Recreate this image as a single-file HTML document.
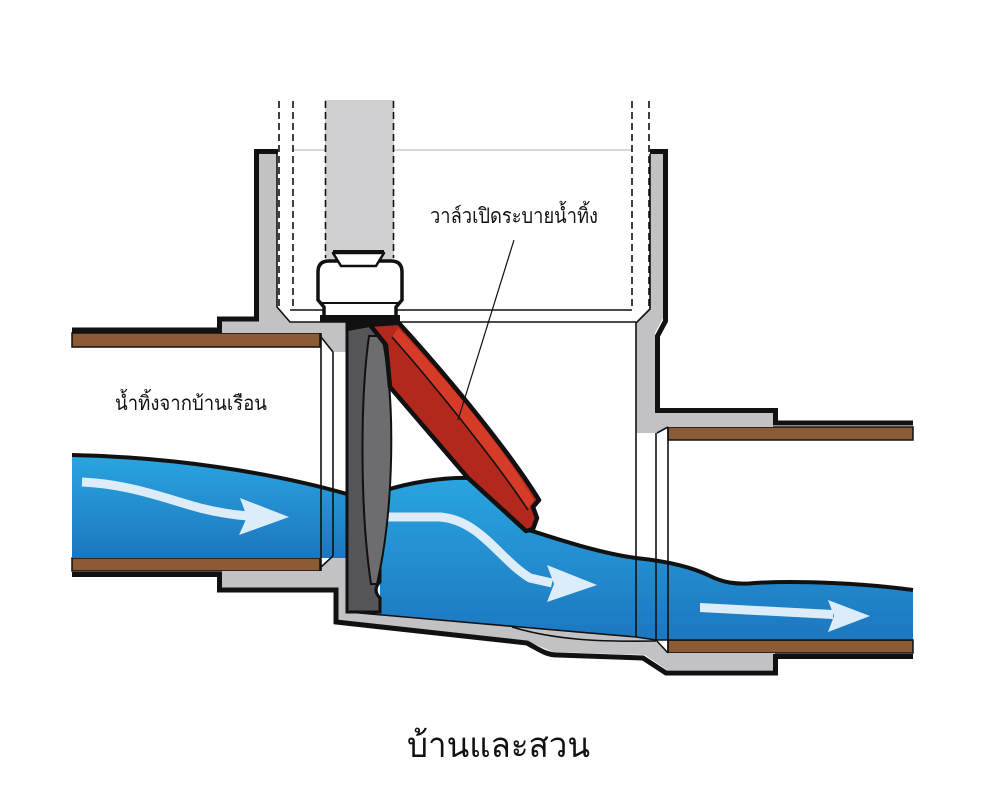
<!DOCTYPE html>
<html>
<head>
<meta charset="utf-8">
<style>
html,body{margin:0;padding:0;background:#fff;}
svg{display:block;}
text{font-family:"Liberation Sans","DejaVu Sans",sans-serif;fill:#111;}
</style>
</head>
<body>
<svg width="1000" height="808" viewBox="0 0 1000 808" xmlns="http://www.w3.org/2000/svg">
<defs>
<linearGradient id="wg" x1="0" y1="0" x2="0" y2="1">
<stop offset="0" stop-color="#2aa5e0"/>
<stop offset="1" stop-color="#1c76bf"/>
</linearGradient>
<linearGradient id="wg2" gradientUnits="userSpaceOnUse" x1="0" y1="470" x2="0" y2="640">
<stop offset="0" stop-color="#2aa7e1"/>
<stop offset="1" stop-color="#1c77c0"/>
</linearGradient>
</defs>

<!-- faint top line -->
<line x1="293" y1="150" x2="632" y2="150" stroke="#d8d8d8" stroke-width="2"/>

<!-- stem -->
<rect x="325" y="100" width="69" height="162" fill="#d0d0d2"/>
<g stroke="#111" stroke-width="1.6" stroke-dasharray="7 4" fill="none">
<line x1="325.5" y1="101" x2="325.5" y2="258"/>
<line x1="393.5" y1="101" x2="393.5" y2="258"/>
<line x1="279" y1="101" x2="279" y2="306"/>
<line x1="293" y1="101" x2="293" y2="310"/>
<line x1="632" y1="101" x2="632" y2="310"/>
<line x1="649" y1="101" x2="649" y2="307"/>
</g>
<line x1="290" y1="310" x2="632" y2="310" stroke="#111" stroke-width="1.6"/>

<!-- pipes -->
<rect x="72" y="333" width="248" height="14" fill="#8c5a35" stroke="#111" stroke-width="1.5"/>
<rect x="72" y="558" width="248" height="13" fill="#8c5a35" stroke="#111" stroke-width="1.5"/>
<rect x="668" y="427" width="245" height="13" fill="#8c5a35" stroke="#111" stroke-width="1.5"/>
<rect x="668" y="640" width="245" height="13" fill="#8c5a35" stroke="#111" stroke-width="1.5"/>

<!-- housing gray -->
<g fill="#c2c2c4">
<polygon points="259,154 277,154 277,307 290,322 347,322 347,352 333,352 321,337 321,333 222,333 222,321 259,321"/>
<polygon points="222,571 321,571 321,567 333,556 348,556 348,612 520,627 636,637 656,640 668,653 775,653 775,670 667,670 645,655 553,652 527,641 338,620 338,588 222,588"/>
<polygon points="650,154 663,154 663,318 655,333 655,413 773,413 773,427 668,427 657,433 636,433 636,323 650,309"/>
</g>

<!-- water left -->
<path d="M72,455 C170,457 270,472 347,494 L347,558 L72,558 Z" fill="url(#wg)"/>
<!-- water middle/right -->
<path d="M380,492 C410,482 445,477 468,478 L528,529 C560,540 600,553 636,558 C665,561 690,566 710,576 C722,582 735,585 755,583 C800,580 870,584 913,590 L913,640 L656,640 L636,637 L520,627 L348,612 L380,612 Z" fill="url(#wg2)"/>

<!-- thin lines -->
<g stroke="#111" stroke-width="1.6" fill="none">
<polyline points="277,154 277,307 290,322 636,322"/>
<polyline points="636,637 636,323 650,309 650,154"/>
<line x1="656" y1="433" x2="656" y2="640"/>
<line x1="668" y1="427" x2="668" y2="653"/>
<line x1="321" y1="333" x2="321" y2="571"/>
<line x1="333" y1="352" x2="333" y2="556"/>
<polyline points="348,612 520,627 636,637 656,640 913,640"/>
<path d="M512,627 C555,640 600,642 656,641"/>
<line x1="321" y1="337" x2="333" y2="352"/>
<line x1="321" y1="567" x2="333" y2="556"/>
<line x1="657" y1="433" x2="668" y2="427"/>
<line x1="656" y1="640" x2="668" y2="653"/>
</g>

<!-- thick outer outlines -->
<g stroke="#111" stroke-width="5" fill="none" stroke-linejoin="miter">
<polyline points="72,330 219.5,330 219.5,319 256.5,319 256.5,151.5 278,151.5"/>
<path d="M72,574.5 L219.5,574.5 L219.5,590 L336,590 L336,622 L527,643 C540,650 546,655 558,655 L643,658 L666,673 L775.5,673 L775.5,656.5 L913,656.5"/>
<polyline points="650,151.5 665.5,151.5 665.5,321 657.5,336 657.5,410.5 775.5,410.5 775.5,423 913,423"/>
</g>

<!-- water top outlines -->
<g stroke="#111" stroke-width="4" fill="none">
<path d="M72,455 C170,457 270,472 347,494"/>
<path d="M380,492 C410,482 445,477 470,478"/>
<path d="M526,529 C560,540 600,553 636,558 C665,561 690,566 710,576 C722,582 735,585 755,583 C800,580 870,584 913,590"/>
</g>

<!-- arrows -->
<g fill="#dcedf9" stroke="none">
<path d="M82,482 C130,484 170,500 200,508 C220,513 235,515 248,516" stroke="#dcedf9" stroke-width="9" fill="none"/>
<path d="M240,498 L289,517 L239,535 L247,517 Z"/>
<path d="M388,517 L440,517 C480,520 500,560 530,578 L552,583" stroke="#dcedf9" stroke-width="9" fill="none"/>
<path d="M547,565 L597,585 L547,602 L554,584 Z"/>
<path d="M700,603 L833,610 L833,619 L700,612 Z"/>
<path d="M828,600 L870,616 L828,632 L834,616 Z"/>
</g>

<!-- valve plate -->
<path d="M347,322 L380,322 L380,582 Q372,590 380,598 L380,612 L347,612 Z" fill="#56565a" stroke="#111" stroke-width="3"/>
<path d="M369,336 C360,400 360,510 371,584 L377,584 C394,510 396,400 382,336 Z" fill="#6d6d70" stroke="#111" stroke-width="2"/>

<!-- flap -->
<path d="M370,325 L397,321 C440,368 505,445 539,500 L533,507 L537,518 L533,529 L526,531 L468,478 L390,387 L386,345 Z" fill="#b3281d"/>
<path d="M398,328 C440,372 503,446 534,500 L528,509 C495,460 430,380 392,337 Z" fill="#d63b28"/>
<path d="M392,337 C430,380 495,460 528,510" stroke="#111" stroke-width="1.6" fill="none"/>
<path d="M370,325 L397,321 C440,368 505,445 539,500 L533,507 L537,518 L533,529 L526,531 L468,478 L390,387 L386,345 Z" fill="none" stroke="#111" stroke-width="4.5" stroke-linejoin="round"/>
<polygon points="345,318 400,318 399,325 370,327 348,331" fill="#111"/>

<!-- bonnet -->
<path d="M318,300 L318,272 Q318,261 329,261 L391,261 Q402,261 402,272 L402,300 L396,307 L396,317 L324,317 L324,307 Z" fill="#fff" stroke="#111" stroke-width="3.5" stroke-linejoin="round"/>
<line x1="320" y1="303" x2="400" y2="303" stroke="#111" stroke-width="2"/>
<rect x="320" y="315" width="80" height="7" fill="#111"/>
<polygon points="333,253 384,253 376,266 341,266" fill="#fff" stroke="#111" stroke-width="2.5" stroke-linejoin="round"/>
<rect x="333" y="250" width="51" height="4" fill="#111"/>

<!-- leader -->
<line x1="514" y1="240" x2="458" y2="420" stroke="#111" stroke-width="1.2"/>

<!-- labels -->
<text x="430" y="223" font-size="21" textLength="168" lengthAdjust="spacingAndGlyphs">วาล์วเปิดระบายน้ำทิ้ง</text>
<text x="115" y="410" font-size="20" textLength="152" lengthAdjust="spacingAndGlyphs">น้ำทิ้งจากบ้านเรือน</text>
<text x="407" y="757" font-size="35" textLength="183" lengthAdjust="spacingAndGlyphs">บ้านและสวน</text>
</svg>
</body>
</html>
